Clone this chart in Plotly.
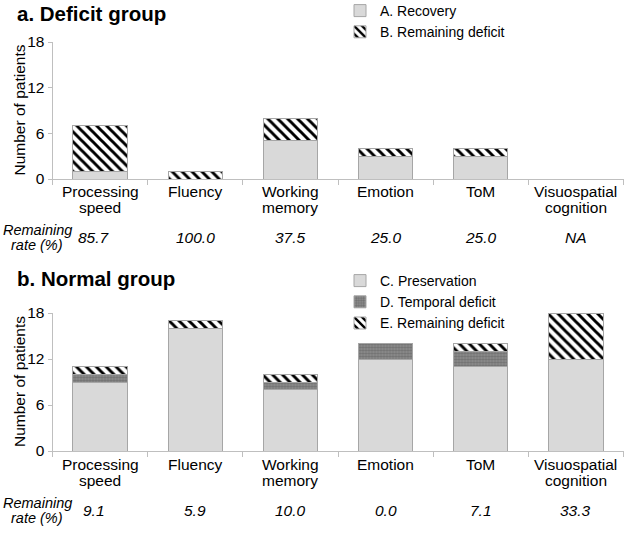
import plotly.graph_objects as go
from plotly.subplots import make_subplots

categories = ["Processing speed", "Fluency", "Working memory", "Emotion", "ToM", "Visuospatial cognition"]
label_line1 = ["Processing", "Fluency", "Working", "Emotion", "ToM", "Visuospatial"]
label_line2 = ["speed", "", "memory", "", "", "cognition"]

# a. Deficit group
deficit_recovery = [1, 0, 5, 3, 3, 0]
deficit_remaining = [6, 1, 3, 1, 1, 0]
deficit_rate = ["85.7", "100.0", "37.5", "25.0", "25.0", "NA"]

# b. Normal group
normal_preservation = [9, 16, 8, 12, 11, 12]
normal_temporal = [1, 0, 1, 2, 2, 0]
normal_remaining = [1, 1, 1, 0, 1, 6]
normal_rate = ["9.1", "5.9", "10.0", "0.0", "7.1", "33.3"]

y_ticks = [0, 6, 12, 18]

FONT = "Liberation Sans, Arial, sans-serif"
FS = 15.5
LIGHT = "#d9d9d9"
EDGE = "#a6a6a6"

fig = make_subplots(rows=2, cols=1)

hatch = dict(shape="\\", fgcolor="black", bgcolor="white", size=7, solidity=0.42, fgopacity=1)
dots = dict(shape=".", fgcolor="#505050", bgcolor="#909090", size=3, solidity=0.5)
line = dict(color=EDGE, width=1)

fig.add_trace(go.Bar(x=categories, y=deficit_recovery, name="A. Recovery",
                     marker=dict(color=LIGHT, line=line), legend="legend"), row=1, col=1)
fig.add_trace(go.Bar(x=categories, y=deficit_remaining, name="B. Remaining deficit",
                     marker=dict(color="white", line=line, pattern=hatch), legend="legend"), row=1, col=1)

fig.add_trace(go.Bar(x=categories, y=normal_preservation, name="C. Preservation",
                     marker=dict(color=LIGHT, line=line), legend="legend2"), row=2, col=1)
fig.add_trace(go.Bar(x=categories, y=normal_temporal, name="D. Temporal deficit",
                     marker=dict(color="#909090", line=line, pattern=dots), legend="legend2"), row=2, col=1)
fig.add_trace(go.Bar(x=categories, y=normal_remaining, name="E. Remaining deficit",
                     marker=dict(color="white", line=line, pattern=hatch), legend="legend2"), row=2, col=1)

H = 533.0
W = 625.0
def py(p):
    return 1 - p / H

xdom = [52.5 / W, 623.5 / W]
fig.update_xaxes(domain=xdom, showline=True, linecolor="#bfbfbf", linewidth=1,
                 ticks="outside", tickson="boundaries", ticklen=5, tickcolor="#bfbfbf",
                 showticklabels=False, showgrid=False)
fig.update_yaxes(range=[0, 18], tickvals=y_ticks, showline=True, linecolor="#bfbfbf",
                 linewidth=1, ticks="outside", ticklen=4, tickcolor="#bfbfbf",
                 tickfont=dict(family=FONT, size=FS, color="black"), showgrid=False,
                 zeroline=False)
fig.update_yaxes(domain=[py(179), py(42)], row=1, col=1)
fig.update_yaxes(domain=[py(451), py(313)], row=2, col=1)

def txt(text, x, y, xref="paper", size=FS, angle=0, xshift=0):
    return dict(text=text, x=x, y=y, xref=xref, yref="paper", xanchor="center",
                yanchor="middle", showarrow=False, textangle=angle, xshift=xshift,
                font=dict(family=FONT, size=size, color="black"))

annotations = []
annotations.append(dict(text="<b>a. Deficit group</b>", x=15 / W, y=py(14), xref="paper", yref="paper",
                        xanchor="left", yanchor="middle", showarrow=False,
                        font=dict(family=FONT, size=20.5, color="black")))
annotations.append(dict(text="<b>b. Normal group</b>", x=15 / W, y=py(278), xref="paper", yref="paper",
                        xanchor="left", yanchor="middle", showarrow=False,
                        font=dict(family=FONT, size=20.5, color="black")))

panels = [
    dict(xref="x", rates=deficit_rate, l1=192, l2=207, rem=230, val=237.5, rate=245, ycenter=110.5),
    dict(xref="x2", rates=normal_rate, l1=464, l2=480, rem=503, val=510.5, rate=518, ycenter=382),
]
for p in panels:
    annotations.append(txt("Number of patients", 19 / W, py(p["ycenter"]), angle=-90))
    for c, a, b in zip(categories, label_line1, label_line2):
        annotations.append(txt(a, c, py(p["l1"]), xref=p["xref"]))
        if b:
            annotations.append(txt(b, c, py(p["l2"]), xref=p["xref"]))
    annotations.append(txt("<i>Remaining</i>", 37 / W, py(p["rem"]), size=14.5))
    annotations.append(txt("<i>rate (%)</i>", 37 / W, py(p["rate"]), size=14.5))
    for i, (c, r) in enumerate(zip(categories, p["rates"])):
        annotations.append(txt("<i>" + r + "</i>", c, py(p["val"]), xref=p["xref"],
                               xshift=-6 if i == 0 else 0))

fig.update_layout(
    width=625, height=533, barmode="stack", bargap=0.43,
    plot_bgcolor="white", paper_bgcolor="white",
    margin=dict(l=0, r=0, t=0, b=0, autoexpand=False),
    annotations=annotations,
    legend=dict(x=340 / W, y=1 + 5 / H, xanchor="left", yanchor="top", traceorder="normal",
                font=dict(family=FONT, size=14, color="black"), bgcolor="rgba(0,0,0,0)"),
    legend2=dict(x=340 / W, y=py(265), xanchor="left", yanchor="top", traceorder="normal",
                 font=dict(family=FONT, size=14, color="black"), bgcolor="rgba(0,0,0,0)"),
)

fig.write_html("out.html", config={"displayModeBar": False},
               post_script="document.body.style.margin='0';document.body.style.padding='0';")
